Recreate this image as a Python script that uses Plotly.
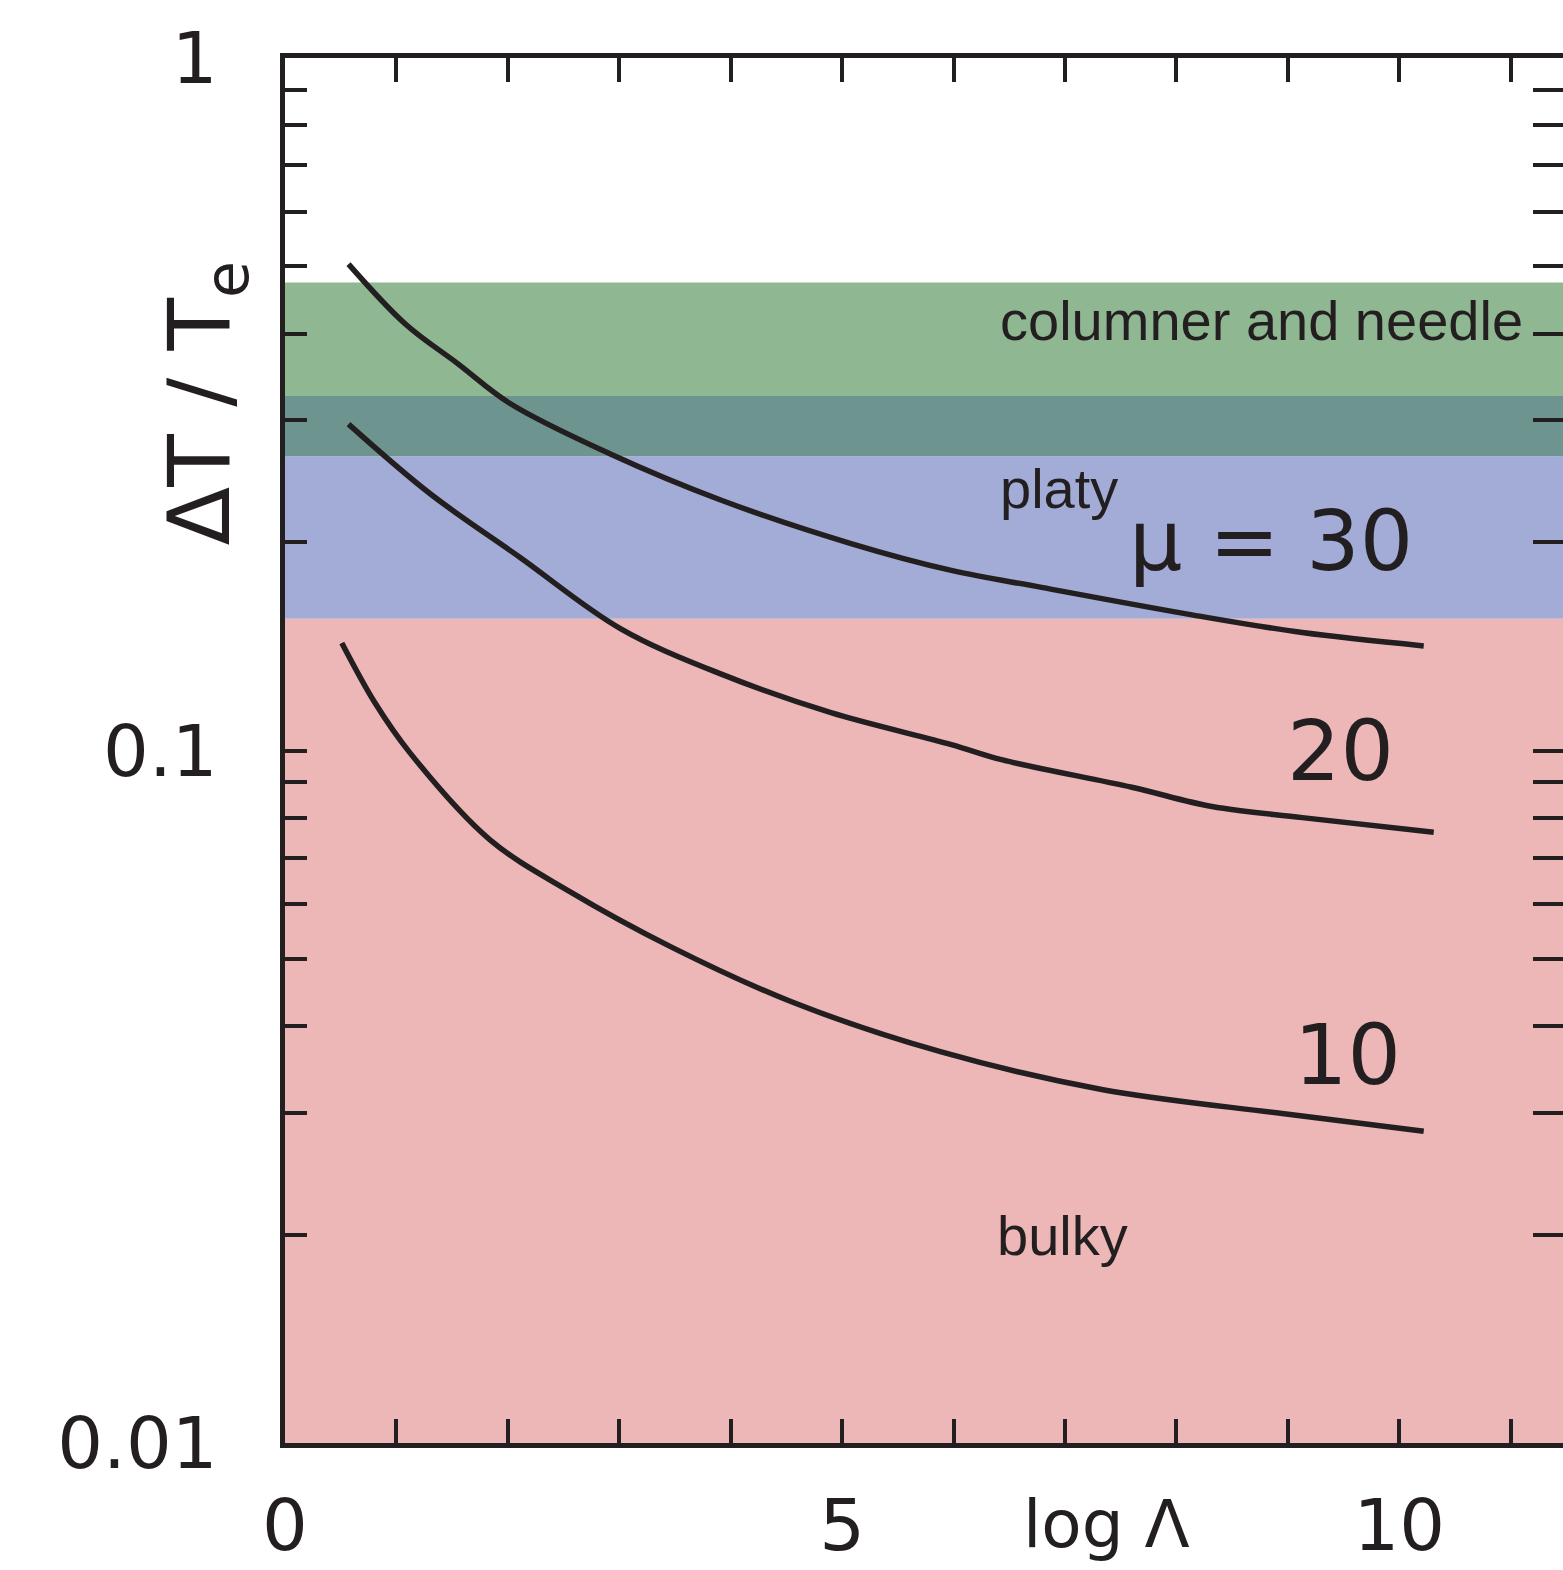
import math
import plotly.graph_objects as go

# ---- data ----
mu30_x = [0.57, 1.08, 1.55, 2.02, 2.92, 3.91, 5.08, 5.98, 6.79, 8.14, 9.13, 10.22]
mu30_y = [0.504, 0.413, 0.362, 0.317, 0.268, 0.230, 0.199, 0.182, 0.172, 0.157, 0.148, 0.1416]

mu20_x = [0.57, 1.30, 2.11, 3.01, 3.91, 4.90, 5.98, 6.43, 7.60, 8.32, 9.13, 10.31]
mu20_y = [0.296, 0.235, 0.190, 0.150, 0.129, 0.1134, 0.102, 0.097, 0.0885, 0.083, 0.080, 0.0762]

mu10_x = [0.51, 0.81, 1.12, 1.84, 2.56, 3.46, 4.54, 5.89, 7.33, 8.95, 10.22]
mu10_y = [0.143, 0.117, 0.0993, 0.0743, 0.0625, 0.0521, 0.0434, 0.0367, 0.0324, 0.0299, 0.0282]

# regime bands (lower, upper) in ΔT/Te
band_columnar = (0.325, 0.474)
band_overlap = (0.266, 0.325)
band_platy = (0.155, 0.266)
band_bulky = (0.01, 0.155)

x_ticks = list(range(0, 12))
x_ticktext = ["0", "", "", "", "", "5", "", "", "", "", "10", ""]
y_ticks = [0.01, 0.02, 0.03, 0.04, 0.05, 0.06, 0.07, 0.08, 0.09,
           0.1, 0.2, 0.3, 0.4, 0.5, 0.6, 0.7, 0.8, 0.9, 1.0]
y_ticktext = ["0.01"] + [""] * 8 + ["0.1"] + [""] * 8 + ["1"]

X_MAX = 11.47
INK = "#231f20"

fig = go.Figure()

def band(lims, color):
    lo, hi = lims
    fig.add_trace(go.Scatter(
        x=[0, X_MAX, X_MAX, 0, 0], y=[lo, lo, hi, hi, lo],
        mode="lines", fill="toself", fillcolor=color,
        line=dict(width=0), hoverinfo="skip", showlegend=False))

band(band_bulky, "#eeb7b7")
band(band_platy, "#a3acd6")
band(band_overlap, "#6e9490")
band(band_columnar, "#8fb792")

for xs, ys in [(mu30_x, mu30_y), (mu20_x, mu20_y), (mu10_x, mu10_y)]:
    fig.add_trace(go.Scatter(x=xs, y=ys, mode="lines",
                             line=dict(color=INK, width=5.5, shape="spline"),
                             yaxis="y2", showlegend=False))

tick_font = dict(family="DejaVu Sans", size=72, color=INK)

fig.update_layout(
    width=1563, height=1570,
    margin=dict(l=285, r=0, t=58, b=127),
    paper_bgcolor="white", plot_bgcolor="white",
    xaxis=dict(range=[0, X_MAX], tickvals=x_ticks, ticktext=x_ticktext,
               ticks="inside", ticklen=24, tickwidth=4, tickcolor=INK,
               showline=True, linewidth=5, linecolor=INK, mirror="ticks",
               showgrid=False, zeroline=False, tickfont=tick_font,
               ticklabelstandoff=16),
    yaxis=dict(type="log", range=[-2, 0], tickvals=y_ticks, ticktext=y_ticktext,
               ticks="inside", ticklen=22, tickwidth=4, tickcolor=INK,
               showline=True, linewidth=5, linecolor=INK,
               showgrid=False, zeroline=False, tickfont=tick_font,
               ticklabelstandoff=48),
    yaxis2=dict(type="log", range=[-2, 0], overlaying="y", side="right",
                tickvals=y_ticks, showticklabels=False,
                ticks="inside", ticklen=30, tickwidth=4, tickcolor=INK,
                showline=False, showgrid=False, zeroline=False),
)

label_font = dict(family="Liberation Sans", size=56, color=INK)
big_font = dict(family="DejaVu Sans", size=84, color=INK)

def ann(text, x, y, font, xanchor="left", **kw):
    fig.add_annotation(text=text, x=x, y=math.log10(y), xref="x", yref="y",
                       xanchor=xanchor, yanchor="middle", showarrow=False,
                       font=font, **kw)

ann("columner and needle", 6.40, 0.418, label_font)
ann("platy", 6.40, 0.239, label_font)
ann("bulky", 6.37, 0.01995, label_font)
ann("μ = 30", 8.85, 0.201, big_font, xanchor="center")
ann("20", 9.47, 0.100, big_font, xanchor="center")
ann("10", 9.54, 0.0363, big_font, xanchor="center")

# axis titles
fig.add_annotation(text="log Λ", x=7.37, y=-0.059, xref="x", yref="paper",
                   xanchor="center", yanchor="middle", showarrow=False,
                   font=dict(family="DejaVu Sans", size=66, color=INK))
fig.add_annotation(text="ΔT / T<sub>e</sub>", x=-(285 - 205) / 1278, y=math.log10(0.317),
                   xref="paper", yref="y", xanchor="center", yanchor="middle",
                   textangle=-90, showarrow=False,
                   font=dict(family="DejaVu Sans", size=86, color=INK))

fig.write_html("out.html",
               config={"displayModeBar": False},
               post_script="document.body.style.margin='0';document.body.style.overflow='hidden';")
